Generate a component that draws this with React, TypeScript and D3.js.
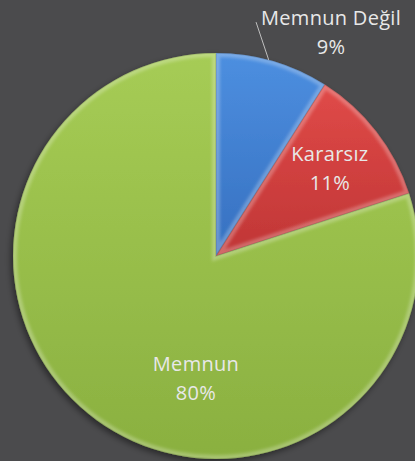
import React from 'react';
import * as d3 from 'd3';

const categories = ['Memnun Değil', 'Kararsız', 'Memnun'];
const values = [9, 11, 80];
const percentLabels = ['9%', '11%', '80%'];
const colorsTop = ['#4d8fe0', '#e04a48', '#a6cc55'];
const colorsBottom = ['#3670c0', '#c03636', '#8ab040'];

const W = 415;
const H = 461;
const cx = 216;
const cy = 256;
const R = 203;

// label placement: angle in degrees (null = slice middle), radius as fraction of R
const labelPlace = [
  { a: 27.2, r: 1.24 },
  { a: null, r: 0.71 },
  { a: 189.3, r: 0.61 },
];

const polar = (angleRad: number, r: number) => [Math.sin(angleRad) * r, -Math.cos(angleRad) * r];

const App = () => {
  const pie = d3.pie<number>().sort(null).value(d => d);
  const arcs = pie(values);
  const arc = d3.arc<d3.PieArcDatum<number>>().innerRadius(0).outerRadius(R);

  return (
    <svg width={W} height={H} style={{ position: 'absolute', left: 0, top: 0, display: 'block' }}>
      <defs>
        {arcs.map((_, i) => (
          <linearGradient key={i} id={`g${i}`} x1="0" y1="0" x2="0" y2="1">
            <stop offset="0%" stopColor={colorsTop[i]} />
            <stop offset="100%" stopColor={colorsBottom[i]} />
          </linearGradient>
        ))}
        {arcs.map((a, i) => (
          <clipPath key={i} id={`c${i}`}>
            <path d={arc(a) || ''} />
          </clipPath>
        ))}
        <filter id="shadow" x="-10%" y="-10%" width="120%" height="120%">
          <feDropShadow dx="-2" dy="3" stdDeviation="3" floodColor="#000" floodOpacity="0.45" />
        </filter>
        <filter id="blur">
          <feGaussianBlur stdDeviation="1.5" />
        </filter>
      </defs>
      <rect width={W} height={H} fill="#4b4b4d" />
      <g transform={`translate(${cx},${cy})`}>
        <g filter="url(#shadow)">
          {arcs.map((a, i) => (
            <path key={i} d={arc(a) || ''} fill={`url(#g${i})`} />
          ))}
        </g>
        {arcs.map((a, i) => (
          <g key={i} clipPath={`url(#c${i})`}>
            <path d={arc(a) || ''} fill="none" stroke="#ffffff" strokeOpacity={0.25} strokeWidth={8} filter="url(#blur)" />
            <path d={arc(a) || ''} fill="none" stroke="#000000" strokeOpacity={0.12} strokeWidth={1.5} />
          </g>
        ))}
        {/* leader line for the small outside label */}
        {(() => {
          const a = arcs[0];
          const mid = (a.startAngle + a.endAngle) / 2 - 0.02;
          const [x1, y1] = polar(mid, R);
          const [lx, ly] = polar((labelPlace[0].a as number) * Math.PI / 180, labelPlace[0].r * R);
          return <line x1={x1} y1={y1} x2={lx - 75} y2={ly - 10} stroke="#bfbfbf" strokeWidth={1} />;
        })()}
        {arcs.map((a, i) => {
          const p = labelPlace[i];
          const ang = p.a === null ? (a.startAngle + a.endAngle) / 2 : p.a * Math.PI / 180;
          const [x, y] = polar(ang, p.r * R);
          return (
            <text key={i} x={x} y={y} textAnchor="middle" fill="#e8e8e8"
              style={{ fontFamily: '"Open Sans", sans-serif', fontSize: 20, letterSpacing: 0.3 }}>
              <tspan x={x} dy={-7}>{categories[i]}</tspan>
              <tspan x={x} dy={29}>{percentLabels[i]}</tspan>
            </text>
          );
        })}
      </g>
    </svg>
  );
};

export default App;
